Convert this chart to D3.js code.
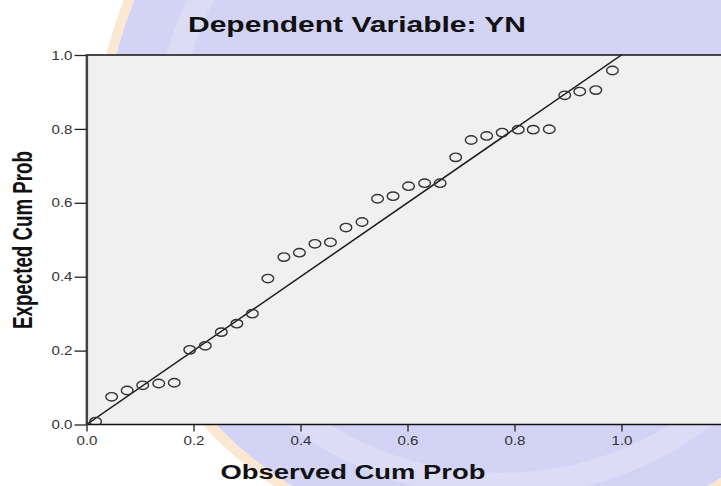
<!DOCTYPE html>
<html>
<head>
<meta charset="utf-8">
<script src="https://cdn.jsdelivr.net/npm/d3@7"></script>
<style>
  html, body { margin: 0; padding: 0; background: #fff; }
  svg { display: block; }
</style>
</head>
<body>
<svg id="ppPlot"></svg>
<script>
// observed vs expected cumulative probability
const observed = [0.017, 0.047, 0.076, 0.105, 0.135, 0.164, 0.193, 0.222, 0.252, 0.281,
                  0.310, 0.339, 0.369, 0.398, 0.427, 0.456, 0.485, 0.515, 0.544, 0.573,
                  0.602, 0.632, 0.661, 0.690, 0.719, 0.748, 0.777, 0.807, 0.835, 0.865,
                  0.894, 0.922, 0.952, 0.983]
const expected = [0.008, 0.075, 0.092, 0.106, 0.111, 0.113, 0.202, 0.213, 0.250, 0.273,
                  0.300, 0.395, 0.453, 0.465, 0.489, 0.493, 0.533, 0.548, 0.611, 0.618,
                  0.645, 0.653, 0.653, 0.723, 0.770, 0.781, 0.790, 0.798, 0.798, 0.799,
                  0.891, 0.901, 0.905, 0.958]
const xTicks = [0, 0.2, 0.4, 0.6, 0.8, 1.0]
const yTicks = [0, 0.2, 0.4, 0.6, 0.8, 1.0]
const refLine = [[0, 0], [1, 1]]

const width = 721
const height = 486
const stretch = 1.38   // the source picture is widened horizontally

const svg = d3.select("#ppPlot")
    .attr("width", width)
    .attr("height", height)
    .style("overflow", "hidden")
    .style("font-family", "Arial, 'Liberation Sans', sans-serif");

// faint logo watermark behind everything
const wm = svg.append("g");
wm.append("circle")
    .attr("cx", 500).attr("cy", 150).attr("r", 400)
    .attr("fill", "#d3d3f5")
    .attr("stroke", "#fbe8d2")
    .attr("stroke-width", 10);
wm.append("circle")
    .attr("cx", 500).attr("cy", 150).attr("r", 335)
    .attr("fill", "none")
    .attr("stroke", "#dcdcf7")
    .attr("stroke-width", 24);

const x = d3.scaleLinear().domain([0, 1.2]).range([86.5, 86.5 + 1.2 * 535]);
const y = d3.scaleLinear().domain([0, 1]).range([424.5, 55]);

// plot area
svg.append("rect")
    .attr("x", x(0))
    .attr("y", y(1))
    .attr("width", x(1.2) - x(0))
    .attr("height", y(0) - y(1))
    .attr("fill", "#f0f0f0")
    .attr("stroke", "#111")
    .attr("stroke-width", 1.5);

svg.append("defs").append("clipPath").attr("id", "plotClip")
    .append("rect")
    .attr("x", x(0)).attr("y", y(1))
    .attr("width", x(1.2) - x(0)).attr("height", y(0) - y(1));

// x axis
const xAxis = svg.append("g")
    .attr("transform", `translate(0,${y(0)})`)
    .call(d3.axisBottom(x).tickValues(xTicks).tickSize(7).tickSizeOuter(0).tickFormat(d3.format(".1f")));
xAxis.select(".domain").remove();
xAxis.selectAll(".tick line").attr("stroke", "#222").attr("stroke-width", 1.3);
xAxis.selectAll(".tick text")
    .attr("y", 16)
    .attr("dy", "0.35em")
    .attr("fill", "#333")
    .style("font-size", "13px")
    .attr("textLength", 21)
    .attr("lengthAdjust", "spacingAndGlyphs");

// y axis
const yAxis = svg.append("g")
    .attr("transform", `translate(${x(0)},0)`)
    .call(d3.axisLeft(y).tickValues(yTicks).tickSize(12).tickSizeOuter(0).tickFormat(d3.format(".1f")));
yAxis.select(".domain").attr("stroke", "#444").attr("stroke-width", 2.2);
yAxis.selectAll(".tick line").attr("stroke", "#222").attr("stroke-width", 1.3);
yAxis.selectAll(".tick text")
    .attr("x", -14)
    .attr("fill", "#333")
    .style("font-size", "13px")
    .attr("textLength", 21)
    .attr("lengthAdjust", "spacingAndGlyphs");

const plot = svg.append("g").attr("clip-path", "url(#plotClip)");

// reference diagonal
plot.append("path")
    .datum(refLine)
    .attr("d", d3.line().x(d => x(d[0])).y(d => y(d[1])))
    .attr("stroke", "#1a1a1a")
    .attr("stroke-width", 1.5)
    .attr("fill", "none");

// points
plot.append("g")
    .selectAll("ellipse")
    .data(observed.map((o, i) => ({o, e: expected[i]})))
    .join("ellipse")
    .attr("cx", d => x(d.o))
    .attr("cy", d => y(d.e))
    .attr("rx", 5.8)
    .attr("ry", 4.2)
    .attr("fill", "none")
    .attr("stroke", "#333")
    .attr("stroke-width", 1.4);

// titles
svg.append("text")
    .attr("x", 357)
    .attr("y", 32)
    .attr("text-anchor", "middle")
    .style("font-size", "22px")
    .style("font-weight", "bold")
    .attr("fill", "#111")
    .attr("textLength", 338)
    .attr("lengthAdjust", "spacingAndGlyphs")
    .text("Dependent Variable: YN");

svg.append("text")
    .attr("x", 353)
    .attr("y", 479)
    .attr("text-anchor", "middle")
    .style("font-size", "20px")
    .style("font-weight", "bold")
    .attr("fill", "#111")
    .attr("textLength", 265)
    .attr("lengthAdjust", "spacingAndGlyphs")
    .text("Observed Cum Prob");

svg.append("text")
    .attr("transform", `translate(32,240) scale(${stretch},1) rotate(-90)`)
    .attr("text-anchor", "middle")
    .style("font-size", "20px")
    .style("font-weight", "bold")
    .attr("fill", "#111")
    .attr("textLength", 178)
    .attr("lengthAdjust", "spacingAndGlyphs")
    .text("Expected Cum Prob");
</script>
</body>
</html>
